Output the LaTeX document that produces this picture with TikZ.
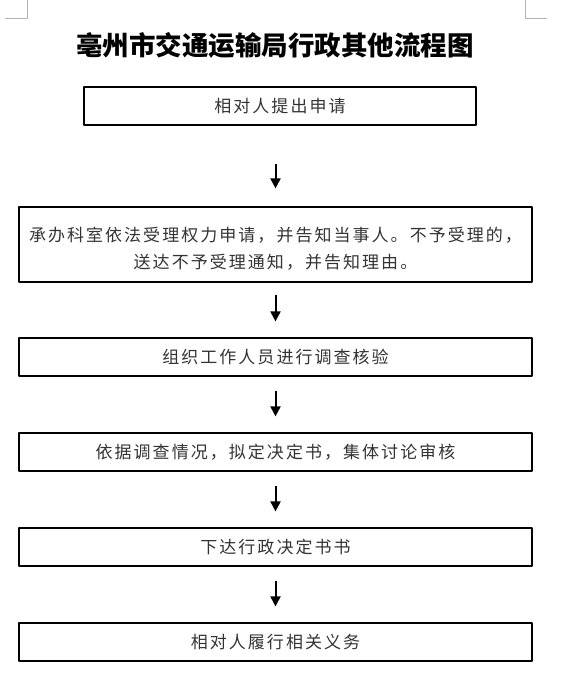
\documentclass[tikz,border=0pt]{standalone}
\usepackage{fontspec}
\newfontfamily\cjk[LetterSpace=12]{Noto Sans CJK SC}
\newfontfamily\cjktitle{Noto Sans CJK SC}
\usetikzlibrary{arrows.meta}
\tikzset{
	stepbox/.style={draw,line width=1.2pt,minimum height=38pt,inner sep=0pt,align=center,
		text=black!80,font=\cjk\fontsize{17}{27}\selectfont},
	flow/.style={-{Triangle[width=10pt,length=10pt]},line width=2pt},
	pagemark/.style={draw=gray!60,line width=0.6pt}
}
\begin{document}
\begin{tikzpicture}[x=1pt,y=-1pt,line join=round]
				%	\draw[color=gray!50,dashed] (0,0) grid[step=50] (565,688);
				\useasboundingbox (0,0) rectangle (565,688);
				% page corner marks
				\draw[pagemark] (27,0)--(27,18)--(5,18);
				\draw[pagemark] (525,0)--(525,18)--(547,18);
				\node (title) at (275,45) {\cjktitle\bfseries\fontsize{26.5}{30}\selectfont 亳州市交通运输局行政其他流程图};
				\node[stepbox,minimum width=392pt] (s1) at (280,106) {相对人提出申请};
				\node[stepbox,minimum width=513pt,minimum height=75pt] (s2) at (275.5,244.5) {\rule{0pt}{22pt}承办科室依法受理权力申请，并告知当事人。不予受理的，\\送达不予受理通知，并告知理由。};
				\node[stepbox,minimum width=513pt] (s3) at (275.5,357) {组织工作人员进行调查核验};
				\node[stepbox,minimum width=513pt] (s4) at (275.5,452) {依据调查情况，拟定决定书，集体讨论审核};
				\node[stepbox,minimum width=513pt] (s5) at (275.5,547) {下达行政决定书书};
				\node[stepbox,minimum width=513pt] (s6) at (275.5,642) {相对人履行相关义务};
				\draw[flow,shorten <=38pt,shorten >=18pt] (s1.south -| s2.north)--(s2.north);
				\draw[flow,shorten <=12pt,shorten >=16pt] (s2.south)--(s3.north);
				\draw[flow,shorten <=14pt,shorten >=16pt] (s3.south)--(s4.north);
				\draw[flow,shorten <=14pt,shorten >=16pt] (s4.south)--(s5.north);
				\draw[flow,shorten <=14pt,shorten >=16pt] (s5.south)--(s6.north);
\end{tikzpicture}
\end{document}
